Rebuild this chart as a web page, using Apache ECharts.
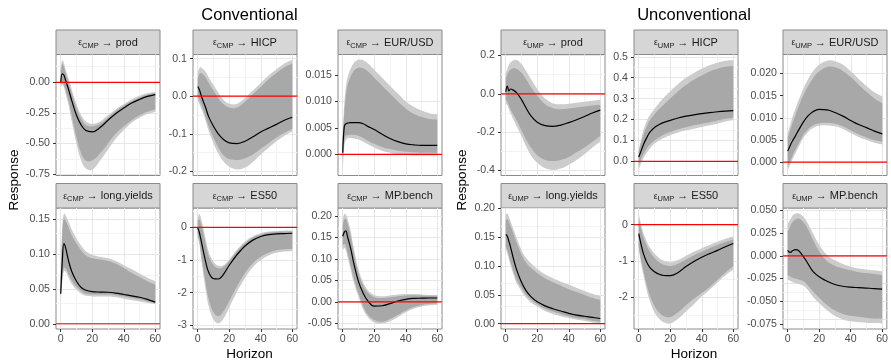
<!DOCTYPE html>
<html>
<head>
<meta charset="utf-8">
<script src="https://cdn.jsdelivr.net/npm/echarts@6/dist/echarts.min.js"></script>
<style>
html, body { margin: 0; padding: 0; background: #fff; }
#main { width: 891px; height: 361px; }
</style>
</head>
<body>
<div id="main"></div>
<script>
// horizon (months) at which the responses are read
const horizons = [0, 1, 2, 3, 5, 7, 10, 13, 16, 20, 25, 30, 35, 40, 45, 50, 55, 60];

// facet labels
const shocks = ['CMP', 'CMP', 'CMP', 'CMP', 'CMP', 'CMP', 'UMP', 'UMP', 'UMP', 'UMP', 'UMP', 'UMP'];
const variables = ['prod', 'HICP', 'EUR/USD', 'long.yields', 'ES50', 'MP.bench',
                   'prod', 'HICP', 'EUR/USD', 'long.yields', 'ES50', 'MP.bench'];
const groupTitles = ['Conventional', 'Unconventional'];
const zeroLevel = 0;

// ---- conventional shock ----
const cmpProdMid  = [0.0, 0.07, 0.06, 0.02, -0.06, -0.15, -0.27, -0.35, -0.395, -0.405, -0.37, -0.31, -0.255, -0.21, -0.17, -0.14, -0.115, -0.10];
const cmpProdLo95 = [-0.04, -0.02, -0.04, -0.09, -0.19, -0.32, -0.5, -0.64, -0.705, -0.715, -0.64, -0.55, -0.46, -0.39, -0.33, -0.29, -0.26, -0.24];
const cmpProdLo68 = [-0.02, 0.0, -0.02, -0.06, -0.15, -0.27, -0.45, -0.58, -0.64, -0.64, -0.58, -0.5, -0.42, -0.36, -0.31, -0.27, -0.24, -0.22];
const cmpProdHi68 = [0.09, 0.15, 0.13, 0.08, 0.0, -0.09, -0.21, -0.3, -0.35, -0.36, -0.34, -0.29, -0.235, -0.19, -0.155, -0.125, -0.1, -0.09];
const cmpProdHi95 = [0.12, 0.18, 0.16, 0.11, 0.03, -0.06, -0.18, -0.27, -0.32, -0.34, -0.32, -0.27, -0.22, -0.18, -0.14, -0.11, -0.09, -0.08];

const cmpHicpMid  = [0.026, 0.018, 0.005, -0.008, -0.03, -0.055, -0.08, -0.1, -0.114, -0.124, -0.126, -0.12, -0.108, -0.095, -0.085, -0.075, -0.064, -0.056];
const cmpHicpLo95 = [-0.01, -0.02, -0.03, -0.04, -0.065, -0.093, -0.125, -0.152, -0.172, -0.187, -0.195, -0.19, -0.175, -0.155, -0.137, -0.12, -0.105, -0.094];
const cmpHicpLo68 = [0.0, -0.01, -0.02, -0.03, -0.055, -0.08, -0.11, -0.135, -0.155, -0.167, -0.17, -0.165, -0.155, -0.14, -0.125, -0.11, -0.097, -0.087];
const cmpHicpHi68 = [0.045, 0.06, 0.062, 0.06, 0.05, 0.035, 0.015, -0.005, -0.02, -0.03, -0.03, -0.015, 0.005, 0.025, 0.045, 0.062, 0.077, 0.087];
const cmpHicpHi95 = [0.06, 0.075, 0.077, 0.074, 0.065, 0.05, 0.03, 0.01, -0.008, -0.02, -0.02, -0.005, 0.015, 0.035, 0.055, 0.072, 0.087, 0.097];

const cmpEurMid  = [0.0003, 0.0053, 0.0058, 0.0059, 0.006, 0.006, 0.006, 0.0058, 0.0053, 0.0047, 0.0038, 0.003, 0.0024, 0.002, 0.0018, 0.0017, 0.0017, 0.0017];
const cmpEurLo95 = [-0.003, 0.0015, 0.0027, 0.003, 0.0031, 0.003, 0.0028, 0.0024, 0.0019, 0.0013, 0.0007, 0.0003, 0.0, -0.0001, -0.0002, -0.0002, -0.0002, -0.0002];
const cmpEurLo68 = [-0.0015, 0.0025, 0.0035, 0.0036, 0.0037, 0.0037, 0.0035, 0.0031, 0.0026, 0.002, 0.0014, 0.001, 0.0007, 0.0005, 0.0004, 0.0003, 0.0003, 0.0003];
const cmpEurHi68 = [0.003, 0.008, 0.011, 0.013, 0.0147, 0.0158, 0.0164, 0.0163, 0.0157, 0.0145, 0.013, 0.0115, 0.01, 0.0087, 0.0077, 0.0071, 0.0067, 0.0066];
const cmpEurHi95 = [0.004, 0.0095, 0.0128, 0.0145, 0.0162, 0.0173, 0.0179, 0.0178, 0.0172, 0.016, 0.0145, 0.013, 0.0115, 0.01, 0.009, 0.0083, 0.0078, 0.0076];

const cmpLongMid  = [0.043, 0.09, 0.115, 0.11, 0.09, 0.075, 0.061, 0.052, 0.048, 0.046, 0.0455, 0.0452, 0.044, 0.042, 0.04, 0.038, 0.035, 0.031];
const cmpLongLo95 = [0.035, 0.06, 0.075, 0.075, 0.066, 0.057, 0.049, 0.043, 0.04, 0.039, 0.039, 0.039, 0.038, 0.036, 0.034, 0.032, 0.03, 0.028];
const cmpLongLo68 = [0.038, 0.065, 0.08, 0.08, 0.071, 0.062, 0.053, 0.047, 0.043, 0.042, 0.042, 0.042, 0.041, 0.039, 0.037, 0.035, 0.032, 0.03];
const cmpLongHi68 = [0.06, 0.13, 0.151, 0.148, 0.138, 0.127, 0.115, 0.105, 0.098, 0.094, 0.092, 0.09, 0.086, 0.08, 0.073, 0.067, 0.061, 0.056];
const cmpLongHi95 = [0.065, 0.14, 0.158, 0.156, 0.146, 0.135, 0.122, 0.112, 0.104, 0.099, 0.096, 0.094, 0.09, 0.084, 0.078, 0.072, 0.066, 0.061];

const cmpEs50Mid  = [-0.02, -0.15, -0.37, -0.6, -1.05, -1.38, -1.57, -1.58, -1.46, -1.16, -0.83, -0.57, -0.39, -0.28, -0.22, -0.2, -0.19, -0.18];
const cmpEs50Lo95 = [-0.3, -0.5, -0.88, -1.25, -1.9, -2.42, -2.82, -2.94, -2.82, -2.45, -1.97, -1.55, -1.22, -1.0, -0.86, -0.78, -0.74, -0.73];
const cmpEs50Lo68 = [-0.2, -0.4, -0.75, -1.1, -1.7, -2.2, -2.6, -2.72, -2.6, -2.25, -1.8, -1.4, -1.1, -0.9, -0.78, -0.7, -0.67, -0.66];
const cmpEs50Hi68 = [0.2, 0.25, 0.12, -0.05, -0.5, -0.88, -1.15, -1.25, -1.23, -1.03, -0.73, -0.48, -0.31, -0.22, -0.16, -0.14, -0.13, -0.13];
const cmpEs50Hi95 = [0.3, 0.42, 0.3, 0.1, -0.35, -0.75, -1.05, -1.17, -1.17, -0.98, -0.68, -0.43, -0.27, -0.18, -0.13, -0.11, -0.1, -0.1];

const cmpMpMid  = [0.152, 0.162, 0.165, 0.152, 0.125, 0.09, 0.047, 0.02, 0.002, -0.01, -0.009, -0.004, 0.002, 0.006, 0.008, 0.0085, 0.009, 0.009];
const cmpMpLo95 = [0.12, 0.125, 0.12, 0.105, 0.075, 0.045, 0.012, -0.018, -0.036, -0.048, -0.0505, -0.045, -0.035, -0.024, -0.016, -0.011, -0.008, -0.007];
const cmpMpLo68 = [0.13, 0.135, 0.13, 0.115, 0.085, 0.055, 0.02, -0.01, -0.03, -0.042, -0.046, -0.04, -0.03, -0.02, -0.012, -0.007, -0.005, -0.004];
const cmpMpHi68 = [0.18, 0.192, 0.192, 0.183, 0.155, 0.115, 0.067, 0.038, 0.021, 0.011, 0.009, 0.011, 0.013, 0.015, 0.015, 0.015, 0.014, 0.014];
const cmpMpHi95 = [0.19, 0.204, 0.203, 0.194, 0.165, 0.125, 0.075, 0.045, 0.027, 0.016, 0.013, 0.015, 0.017, 0.018, 0.018, 0.017, 0.016, 0.016];

// ---- unconventional shock ----
const umpProdMid  = [0.01, 0.04, 0.015, 0.025, 0.018, 0.005, -0.03, -0.075, -0.115, -0.148, -0.166, -0.17, -0.163, -0.15, -0.135, -0.118, -0.1, -0.085];
const umpProdLo95 = [-0.05, -0.06, -0.08, -0.1, -0.135, -0.17, -0.22, -0.275, -0.32, -0.36, -0.388, -0.397, -0.39, -0.37, -0.345, -0.315, -0.28, -0.25];
const umpProdLo68 = [-0.03, -0.04, -0.06, -0.08, -0.11, -0.14, -0.19, -0.24, -0.28, -0.32, -0.345, -0.35, -0.345, -0.33, -0.305, -0.28, -0.25, -0.22];
const umpProdHi68 = [0.08, 0.1, 0.115, 0.125, 0.133, 0.13, 0.11, 0.075, 0.035, -0.01, -0.055, -0.075, -0.08, -0.077, -0.072, -0.066, -0.061, -0.057];
const umpProdHi95 = [0.107, 0.13, 0.15, 0.163, 0.175, 0.176, 0.155, 0.118, 0.077, 0.025, -0.025, -0.05, -0.055, -0.052, -0.047, -0.041, -0.036, -0.031];

const umpHicpMid  = [0.02, 0.04, 0.06, 0.08, 0.112, 0.138, 0.162, 0.176, 0.186, 0.196, 0.207, 0.216, 0.222, 0.228, 0.233, 0.237, 0.24, 0.242];
const umpHicpLo95 = [-0.04, -0.02, 0.0, 0.015, 0.04, 0.06, 0.085, 0.1, 0.112, 0.125, 0.138, 0.148, 0.156, 0.164, 0.172, 0.18, 0.19, 0.197];
const umpHicpLo68 = [-0.02, 0.0, 0.02, 0.035, 0.06, 0.08, 0.1, 0.115, 0.128, 0.14, 0.153, 0.163, 0.172, 0.18, 0.187, 0.195, 0.203, 0.21];
const umpHicpHi68 = [0.045, 0.075, 0.1, 0.125, 0.165, 0.195, 0.225, 0.25, 0.272, 0.3, 0.335, 0.365, 0.39, 0.41, 0.43, 0.443, 0.452, 0.456];
const umpHicpHi95 = [0.055, 0.09, 0.12, 0.15, 0.19, 0.22, 0.25, 0.28, 0.305, 0.335, 0.37, 0.4, 0.423, 0.443, 0.46, 0.472, 0.481, 0.485];

const umpEurMid  = [0.0025, 0.0033, 0.0041, 0.0048, 0.006, 0.0073, 0.0091, 0.0105, 0.0114, 0.0119, 0.0118, 0.0112, 0.0104, 0.0094, 0.0085, 0.0078, 0.007, 0.0064];
const umpEurLo95 = [-0.0017, -0.001, -0.0002, 0.0006, 0.0021, 0.0035, 0.0055, 0.0068, 0.0077, 0.0082, 0.0083, 0.0081, 0.0075, 0.0066, 0.0057, 0.005, 0.0044, 0.004];
const umpEurLo68 = [-0.001, -0.0002, 0.0006, 0.0014, 0.0029, 0.0043, 0.0062, 0.0075, 0.0083, 0.0088, 0.0089, 0.0087, 0.0081, 0.0072, 0.0063, 0.0056, 0.005, 0.0046];
const umpEurHi68 = [0.0055, 0.0066, 0.0077, 0.0088, 0.0107, 0.0126, 0.0152, 0.0172, 0.0189, 0.0205, 0.0215, 0.0214, 0.0206, 0.0192, 0.0175, 0.0159, 0.0144, 0.0133];
const umpEurHi95 = [0.0066, 0.0078, 0.009, 0.0102, 0.0122, 0.0141, 0.0167, 0.0188, 0.0205, 0.022, 0.0229, 0.0228, 0.022, 0.0205, 0.0188, 0.0172, 0.0158, 0.0148];

const umpLongMid  = [0.155, 0.152, 0.143, 0.134, 0.112, 0.093, 0.072, 0.057, 0.047, 0.038, 0.031, 0.026, 0.022, 0.018, 0.015, 0.013, 0.011, 0.009];
const umpLongLo95 = [0.13, 0.122, 0.112, 0.102, 0.085, 0.07, 0.057, 0.045, 0.037, 0.03, 0.022, 0.017, 0.013, 0.01, 0.007, 0.005, 0.002, 0.0005];
const umpLongLo68 = [0.135, 0.128, 0.118, 0.108, 0.09, 0.076, 0.062, 0.05, 0.042, 0.034, 0.026, 0.021, 0.017, 0.013, 0.01, 0.008, 0.005, 0.003];
const umpLongHi68 = [0.18, 0.182, 0.177, 0.17, 0.155, 0.14, 0.12, 0.106, 0.097, 0.088, 0.079, 0.072, 0.066, 0.06, 0.055, 0.05, 0.045, 0.041];
const umpLongHi95 = [0.19, 0.1915, 0.186, 0.179, 0.163, 0.148, 0.128, 0.114, 0.105, 0.095, 0.086, 0.079, 0.073, 0.068, 0.062, 0.057, 0.052, 0.048];

const umpEs50Mid  = [-0.25, -0.45, -0.64, -0.8, -1.03, -1.18, -1.3, -1.37, -1.405, -1.41, -1.32, -1.16, -1.02, -0.9, -0.8, -0.71, -0.61, -0.52];
const umpEs50Lo95 = [-0.7, -0.95, -1.2, -1.4, -1.8, -2.1, -2.42, -2.6, -2.7, -2.73, -2.6, -2.4, -2.2, -1.98, -1.8, -1.6, -1.4, -1.24];
const umpEs50Lo68 = [-0.6, -0.85, -1.08, -1.28, -1.65, -1.95, -2.25, -2.43, -2.53, -2.55, -2.42, -2.23, -2.05, -1.89, -1.72, -1.52, -1.32, -1.15];
const umpEs50Hi68 = [0.15, -0.03, -0.2, -0.35, -0.57, -0.74, -0.92, -1.04, -1.11, -1.14, -1.08, -0.96, -0.85, -0.75, -0.65, -0.56, -0.48, -0.41];
const umpEs50Hi95 = [0.3, 0.1, -0.08, -0.23, -0.45, -0.62, -0.8, -0.92, -1.0, -1.04, -0.98, -0.86, -0.75, -0.65, -0.56, -0.47, -0.39, -0.32];

const umpMpMid  = [0.006, 0.004, 0.004, 0.0055, 0.0068, 0.0055, -0.001, -0.009, -0.017, -0.023, -0.028, -0.0315, -0.0335, -0.0345, -0.035, -0.0355, -0.036, -0.0367];
const umpMpLo95 = [-0.027, -0.027, -0.028, -0.029, -0.03, -0.031, -0.033, -0.038, -0.045, -0.052, -0.06, -0.066, -0.07, -0.072, -0.073, -0.0735, -0.074, -0.0744];
const umpMpLo68 = [-0.022, -0.022, -0.023, -0.024, -0.025, -0.026, -0.028, -0.033, -0.039, -0.046, -0.054, -0.06, -0.064, -0.066, -0.067, -0.068, -0.069, -0.069];
const umpMpHi68 = [0.027, 0.03, 0.034, 0.037, 0.04, 0.041, 0.037, 0.029, 0.018, 0.005, -0.006, -0.011, -0.014, -0.016, -0.018, -0.019, -0.02, -0.021];
const umpMpHi95 = [0.035, 0.038, 0.041, 0.044, 0.0465, 0.0466, 0.043, 0.035, 0.025, 0.012, 0.001, -0.005, -0.009, -0.012, -0.014, -0.015, -0.016, -0.017];

// [mid, lo95, lo68, hi68, hi95] per facet
const panelData = [
    [cmpProdMid, cmpProdLo95, cmpProdLo68, cmpProdHi68, cmpProdHi95],
    [cmpHicpMid, cmpHicpLo95, cmpHicpLo68, cmpHicpHi68, cmpHicpHi95],
    [cmpEurMid, cmpEurLo95, cmpEurLo68, cmpEurHi68, cmpEurHi95],
    [cmpLongMid, cmpLongLo95, cmpLongLo68, cmpLongHi68, cmpLongHi95],
    [cmpEs50Mid, cmpEs50Lo95, cmpEs50Lo68, cmpEs50Hi68, cmpEs50Hi95],
    [cmpMpMid, cmpMpLo95, cmpMpLo68, cmpMpHi68, cmpMpHi95],
    [umpProdMid, umpProdLo95, umpProdLo68, umpProdHi68, umpProdHi95],
    [umpHicpMid, umpHicpLo95, umpHicpLo68, umpHicpHi68, umpHicpHi95],
    [umpEurMid, umpEurLo95, umpEurLo68, umpEurHi68, umpEurHi95],
    [umpLongMid, umpLongLo95, umpLongLo68, umpLongHi68, umpLongHi95],
    [umpEs50Mid, umpEs50Lo95, umpEs50Lo68, umpEs50Hi68, umpEs50Hi95],
    [umpMpMid, umpMpLo95, umpMpLo68, umpMpHi68, umpMpHi95]
];

// y scales (free per facet)
const yLimits = [[-0.763, 0.228], [-0.211, 0.111], [-0.004, 0.0189], [-0.0075, 0.166], [-3.11, 0.593], [-0.063, 0.218],
                 [-0.426, 0.205], [-0.068, 0.511], [-0.003, 0.0243], [-0.0092, 0.201], [-2.884, 0.46], [-0.0805, 0.0526]];
const yStep = [0.25, 0.1, 0.005, 0.05, 1, 0.05, 0.2, 0.1, 0.005, 0.05, 1, 0.025];
const yDec = [2, 1, 3, 2, 0, 2, 1, 1, 3, 2, 0, 3];
const xLimits = [-3, 63];
const xStep = 20;

// layout
const colLeft = [56, 193, 338, 501, 634, 783];
const panelW = 104;
const stripTop = [30, 183.5];
const stripH = 24.5;
const plotH = 121;

const FONT = '"Liberation Sans", Arial, sans-serif';
const LIGHT = '#cccccc';
const DARK = '#a8a8a8';
const BORDER = '#8a8a8a';
const SMOOTH = 0.4;

function breaks(lo, hi, step) {
    let major = [], minor = [];
    let k0 = Math.ceil(lo / step - 1e-6) - 1;
    let k1 = Math.floor(hi / step + 1e-6) + 1;
    for (let k = k0; k <= k1; k++) {
        let v = +(k * step).toFixed(8);
        if (v >= lo && v <= hi) major.push(v);
        let m = +((k + 0.5) * step).toFixed(8);
        if (m > lo && m < hi) minor.push(m);
    }
    return {major, minor};
}

// ribbon between two bounds, drawn once per facet
function band(i, lo, hi, color) {
    return {
        type: 'custom', xAxisIndex: i, yAxisIndex: i, silent: true, z: 2,
        data: horizons.map((h, k) => [h, lo[k], hi[k]]),
        encode: {x: 0, y: [1, 2]},
        renderItem: (params, api) => {
            if (params.dataIndex !== 0) return null;
            let up = horizons.map((h, k) => api.coord([h, hi[k]]));
            let dn = horizons.map((h, k) => api.coord([h, lo[k]])).reverse();
            let n = up.length;
            // doubled corner points keep the ends square
            let pts = [up[0]].concat(up, [up[n - 1], dn[0]], dn, [dn[n - 1]]);
            return {type: 'polygon', shape: {points: pts, smooth: SMOOTH}, style: {fill: color}};
        }
    };
}

let grids = [], xAxes = [], yAxes = [], series = [], graphics = [];

panelData.forEach((p, i) => {
    let g = i < 6 ? 0 : 1;
    let j = i % 6;
    let row = j < 3 ? 0 : 1;
    let left = colLeft[g * 3 + j % 3];
    let top = stripTop[row] + stripH;
    let [lo, hi] = yLimits[i];
    let yb = breaks(lo, hi, yStep[i]);
    let xb = breaks(xLimits[0], xLimits[1], xStep);

    grids.push({
        left: left, top: top, width: panelW, height: plotH,
        show: true, backgroundColor: '#fff', borderColor: BORDER, borderWidth: 1
    });
    xAxes.push({
        type: 'value', gridIndex: i, min: xLimits[0], max: xLimits[1],
        axisLine: {show: false, onZero: false},
        splitLine: {show: false},
        axisTick: {show: row === 1, length: 3, customValues: xb.major, lineStyle: {color: '#333'}},
        axisLabel: {show: row === 1, customValues: xb.major, color: '#4d4d4d', fontSize: 10.6, fontFamily: FONT, margin: 5}
    });
    yAxes.push({
        type: 'value', gridIndex: i, min: lo, max: hi,
        axisLine: {show: false, onZero: false},
        splitLine: {show: false},
        axisTick: {show: true, length: 3, customValues: yb.major, lineStyle: {color: '#333'}},
        axisLabel: {
            customValues: yb.major, color: '#4d4d4d', fontSize: 10.6, fontFamily: FONT, margin: 6,
            formatter: v => v.toFixed(yDec[i])
        }
    });

    // grid lines (theme_bw style)
    let lines = [];
    xb.minor.forEach(v => lines.push({xAxis: v, lineStyle: {color: '#f3f3f3', width: 1, type: 'solid'}}));
    yb.minor.forEach(v => lines.push({yAxis: v, lineStyle: {color: '#f3f3f3', width: 1, type: 'solid'}}));
    xb.major.forEach(v => lines.push({xAxis: v, lineStyle: {color: '#e6e6e6', width: 1, type: 'solid'}}));
    yb.major.forEach(v => lines.push({yAxis: v, lineStyle: {color: '#e6e6e6', width: 1, type: 'solid'}}));

    let [mid, lo95, lo68, hi68, hi95] = p;
    series.push({
        type: 'line', xAxisIndex: i, yAxisIndex: i, data: [], silent: true,
        markLine: {silent: true, z: 1, symbol: ['none', 'none'], label: {show: false}, animation: false,
                   lineStyle: {type: 'solid'}, data: lines}
    });
    series.push(band(i, lo95, hi95, LIGHT));
    series.push(band(i, lo68, hi68, DARK));
    series.push({
        type: 'line', xAxisIndex: i, yAxisIndex: i, symbol: 'none', smooth: SMOOTH, z: 3,
        data: horizons.map((h, k) => [h, mid[k]]),
        lineStyle: {color: '#000', width: 1.2}
    });
    // zero reference line across the panel
    series.push({
        type: 'line', xAxisIndex: i, yAxisIndex: i, symbol: 'none', silent: true, z: 4,
        data: [[xLimits[0], zeroLevel], [xLimits[1], zeroLevel]],
        lineStyle: {color: '#ff0000', width: 1.2}
    });

    // facet strip
    graphics.push({
        type: 'rect', shape: {x: left, y: stripTop[row], width: panelW, height: stripH},
        style: {fill: '#d6d6d6', stroke: BORDER, lineWidth: 1}
    });
    graphics.push({
        type: 'text', x: left + panelW / 2, y: stripTop[row] + stripH / 2 + 0.5,
        style: {
            text: '{e|ε}{s|' + shocks[i] + '}{t| → ' + variables[i] + '}',
            align: 'center', verticalAlign: 'middle',
            rich: {
                e: {fontSize: 8.5, fontFamily: FONT, fill: '#1a1a1a', lineHeight: 14, verticalAlign: 'middle'},
                s: {fontSize: 7.5, fontFamily: FONT, fill: '#1a1a1a', lineHeight: 14, verticalAlign: 'bottom'},
                t: {fontSize: 11, fontFamily: FONT, fill: '#1a1a1a', lineHeight: 14, verticalAlign: 'middle'}
            }
        }
    });
});

// group titles and axis titles
[249.5, 694].forEach((cx, g) => {
    graphics.push({
        type: 'text', x: cx, y: 15,
        style: {text: groupTitles[g], fontSize: 16.5, fontFamily: FONT, fill: '#000', align: 'center', verticalAlign: 'middle'}
    });
    graphics.push({
        type: 'text', x: cx, y: 354,
        style: {text: 'Horizon', fontSize: 13.5, fontFamily: FONT, fill: '#000', align: 'center', verticalAlign: 'middle'}
    });
});
[14, 462].forEach(x => {
    graphics.push({
        type: 'text', x: x, y: 180, rotation: Math.PI / 2,
        style: {text: 'Response', fontSize: 13.5, fontFamily: FONT, fill: '#000', align: 'center', verticalAlign: 'middle'}
    });
});

let chart = echarts.init(document.getElementById('main'));
chart.setOption({
    animation: false,
    grid: grids,
    xAxis: xAxes,
    yAxis: yAxes,
    series: series,
    graphic: {elements: graphics}
});
</script>
</body>
</html>
